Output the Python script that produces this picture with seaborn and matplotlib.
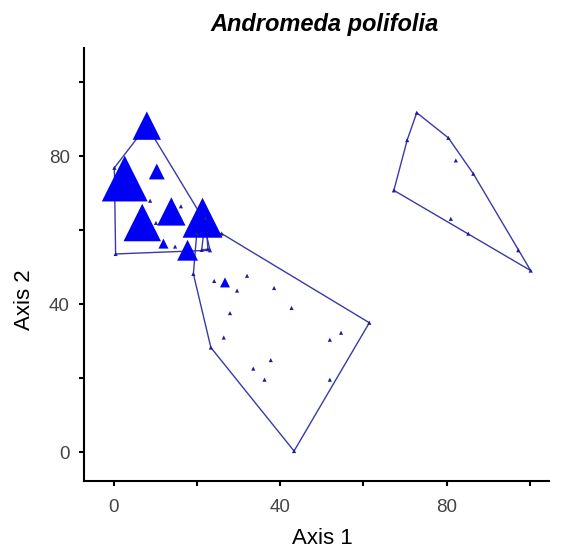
import numpy as np
import pandas as pd
import seaborn as sns
import matplotlib
matplotlib.use("Agg")
import matplotlib.pyplot as plt

# ordination scores (axis 1, axis 2) and cover of Andromeda polifolia, per plot group
grp_a_x = [7.9, 2.6, 10.3, 0.1, 6.8, 13.8, 21.3, 11.9, 17.7, 8.7, 16.1, 10.1, 14.7, 23.1, 0.4]
grp_a_y = [88.3, 74.0, 75.9, 76.9, 62.1, 65.1, 63.4, 56.4, 54.6, 68.0, 66.5, 62.0, 55.6, 54.6, 53.6]
grp_a_cover = [29, 50, 14, 0, 40, 29, 43, 7, 20, 0, 0, 0, 0, 0, 0]

grp_b_x = [22.0, 21.1, 22.6]
grp_b_y = [63.4, 54.7, 54.9]
grp_b_cover = [0, 0, 0]

grp_c_x = [25.9, 61.4, 43.3, 23.3, 19.1, 19.9, 24.1, 26.7, 32.0, 29.6, 38.5, 42.7,
           27.9, 26.4, 54.6, 51.9, 37.7, 33.5, 36.2, 51.9]
grp_c_y = [59.1, 35.0, 0.3, 28.3, 48.2, 59.1, 46.3, 45.9, 47.7, 43.7, 44.4, 39.0,
           37.6, 31.0, 32.3, 30.4, 24.9, 22.6, 19.6, 19.6]
grp_c_cover = [0, 0, 0, 0, 0, 0, 0, 7, 0, 0, 0, 0, 0, 0, 0, 0, 0, 0, 0, 0]

grp_d_x = [72.8, 80.4, 86.4, 97.2, 100.2, 85.2, 67.3, 70.5, 82.2, 81.0]
grp_d_y = [91.8, 85.0, 75.3, 54.6, 49.1, 59.1, 70.8, 84.4, 78.9, 63.1]
grp_d_cover = [0, 0, 0, 0, 0, 0, 0, 0, 0, 0]

frames = []
for name, gx, gy, gc in [("A", grp_a_x, grp_a_y, grp_a_cover),
                         ("B", grp_b_x, grp_b_y, grp_b_cover),
                         ("C", grp_c_x, grp_c_y, grp_c_cover),
                         ("D", grp_d_x, grp_d_y, grp_d_cover)]:
    frames.append(pd.DataFrame({"axis1": gx, "axis2": gy, "cover": gc, "group": name}))
df = pd.concat(frames, ignore_index=True)
df["present"] = np.where(df["cover"] > 0, "yes", "no")


def convex_hull(points):
    pts = sorted(set(points))
    if len(pts) < 3:
        return pts

    def cross(o, a, b):
        return (a[0] - o[0]) * (b[1] - o[1]) - (a[1] - o[1]) * (b[0] - o[0])

    lower = []
    for p in pts:
        while len(lower) >= 2 and cross(lower[-2], lower[-1], p) <= 0:
            lower.pop()
        lower.append(p)
    upper = []
    for p in reversed(pts):
        while len(upper) >= 2 and cross(upper[-2], upper[-1], p) <= 0:
            upper.pop()
        upper.append(p)
    return lower[:-1] + upper[:-1]


sns.set_theme(style="ticks")
plt.rcParams["font.family"] = ["Liberation Sans", "DejaVu Sans"]

fig = plt.figure(figsize=(5.61, 5.57), dpi=100)
ax = fig.add_axes([84 / 561, 1 - 481 / 557, (549 - 84) / 561, (481 - 48) / 557])

# convex hulls round each group
for name, sub in df.groupby("group"):
    hull = convex_hull(list(zip(sub["axis1"], sub["axis2"])))
    hull.append(hull[0])
    hx, hy = zip(*hull)
    ax.plot(hx, hy, color="#3a3aa8", lw=1.0, zorder=2)

# triangle size follows cover
size_map = {c: (3 + 0.6 * c) ** 2 for c in df["cover"].unique()}
df_plot = df.sort_values("cover", ascending=False)
sns.scatterplot(data=df_plot, x="axis1", y="axis2", size="cover", sizes=size_map,
                hue="present", palette={"yes": "#0000f5", "no": "#1c1ca6"},
                marker="^", linewidth=0, legend=False, ax=ax, zorder=3)

ax.set_xlim(-7.2, 104.6)
ax.set_ylim(-7.8, 109.3)
ax.set_xticks([0, 40, 80])
ax.set_xticks([20, 60, 100], minor=True)
ax.set_yticks([0, 40, 80])
ax.set_yticks([20, 60, 100], minor=True)
ax.tick_params(which="both", direction="out", length=3.6, width=1.5, color="black")
ax.tick_params(axis="x", which="major", pad=9.5, labelsize=13.5, labelcolor="#444444")
ax.tick_params(axis="y", which="major", pad=6.5, labelsize=13.5, labelcolor="#444444")
for side in ["left", "bottom"]:
    ax.spines[side].set_linewidth(1.5)
    ax.spines[side].set_color("black")
sns.despine(ax=ax)

ax.set_xlabel("")
ax.set_ylabel("")
fig.text(322 / 561, 1 - 538 / 557, "Axis 1", ha="center", va="center", fontsize=16,
         color="black")
fig.text(25 / 561, 1 - 300 / 557, "Axis 2", ha="center", va="center", fontsize=16,
         rotation=90, color="black")
fig.text(325 / 561, 1 - 25 / 557, "Andromeda polifolia", ha="center", va="center",
         fontsize=17, fontweight="bold", fontstyle="italic", color="black")

fig.savefig("out.png", dpi=100)
